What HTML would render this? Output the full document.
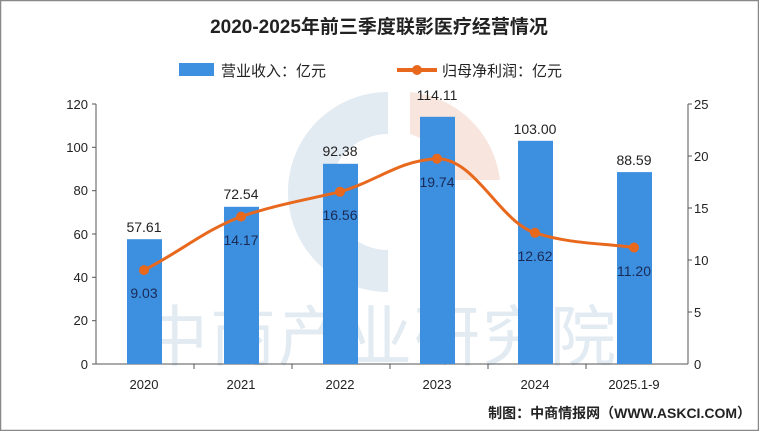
<!DOCTYPE html>
<html><head><meta charset="utf-8"><style>
body{margin:0;background:#fff}
svg text{font-family:"Liberation Sans","Noto Sans CJK SC",sans-serif}
</style></head><body>
<svg width="759" height="431" viewBox="0 0 759 431" xmlns="http://www.w3.org/2000/svg">
<rect x="0.5" y="0.5" width="758" height="430" fill="#fff" stroke="#888" stroke-width="1.5"/>
<path d="M388 92 A100 100 0 1 0 388 292 L388 250 A58 58 0 1 1 388 134 Z" fill="#e2eaf2"/>
<path d="M410 92 A100 100 0 0 1 500 180 L450 180 A58 58 0 0 0 410 134 Z" fill="#f8e6de"/>
<text x="380" y="360" text-anchor="middle" font-size="66" fill="#e2eaf2" letter-spacing="2">中商产业研究院</text>
<text x="379" y="33" text-anchor="middle" font-size="19" font-weight="bold" fill="#222">2020-2025年前三季度联影医疗经营情况</text>
<rect x="179" y="63" width="35" height="13" fill="#3d8fe0"/>
<text x="221" y="76" font-size="15" fill="#222">营业收入：亿元</text>
<line x1="397" y1="70" x2="437" y2="70" stroke="#e8691e" stroke-width="4"/>
<circle cx="417" cy="70" r="5" fill="#e8691e"/>
<text x="442" y="76" font-size="15" fill="#222">归母净利润：亿元</text>
<g stroke="#555" stroke-width="1">
<line x1="96" y1="104" x2="96" y2="364"/>
<line x1="688" y1="104" x2="688" y2="364"/>
<line x1="96" y1="364" x2="688" y2="364"/>
<line x1="92" y1="104" x2="96" y2="104"/><line x1="92" y1="147.3" x2="96" y2="147.3"/><line x1="92" y1="190.7" x2="96" y2="190.7"/><line x1="92" y1="234" x2="96" y2="234"/><line x1="92" y1="277.3" x2="96" y2="277.3"/><line x1="92" y1="320.7" x2="96" y2="320.7"/><line x1="92" y1="364" x2="96" y2="364"/>
<line x1="688" y1="104" x2="692" y2="104"/><line x1="688" y1="156" x2="692" y2="156"/><line x1="688" y1="208" x2="692" y2="208"/><line x1="688" y1="260" x2="692" y2="260"/><line x1="688" y1="312" x2="692" y2="312"/>
<line x1="194" y1="364" x2="194" y2="369"/><line x1="292" y1="364" x2="292" y2="369"/><line x1="390" y1="364" x2="390" y2="369"/><line x1="488" y1="364" x2="488" y2="369"/><line x1="586" y1="364" x2="586" y2="369"/>
</g>
<g font-size="13" fill="#222" text-anchor="end">
<text x="88" y="109">120</text><text x="88" y="152">100</text><text x="88" y="195">80</text><text x="88" y="239">60</text><text x="88" y="282">40</text><text x="88" y="325">20</text><text x="88" y="369">0</text>
</g>
<g font-size="13" fill="#222">
<text x="694" y="109">25</text><text x="694" y="161">20</text><text x="694" y="213">15</text><text x="694" y="265">10</text><text x="694" y="317">5</text><text x="694" y="369">0</text>
</g>
<g font-size="13" fill="#222" text-anchor="middle">
<text x="144" y="389">2020</text><text x="241" y="389">2021</text><text x="340" y="389">2022</text><text x="437" y="389">2023</text><text x="535" y="389">2024</text><text x="634" y="389">2025.1-9</text>
</g>
<g fill="#3d8fe0">
<rect x="127" y="239.2" width="35" height="124.8"/>
<rect x="224" y="206.8" width="35" height="157.2"/>
<rect x="323" y="163.8" width="35" height="200.2"/>
<rect x="420" y="116.8" width="35" height="247.2"/>
<rect x="518" y="140.8" width="35" height="223.2"/>
<rect x="617" y="172.1" width="35" height="191.9"/>
</g>
<g font-size="14" fill="#222" text-anchor="middle">
<text x="144" y="232">57.61</text><text x="241" y="199">72.54</text><text x="340" y="156">92.38</text><text x="437" y="100">114.11</text><text x="535" y="134">103.00</text><text x="634" y="165">88.59</text>
</g>
<path d="M144 270.1 C180 252,205 230,241 216.6 C275 205,305 200,340 191.8 C375 182,400 160,437 158.7 C475 158,500 222,535 232.8 C570 244,600 243,634 247.5" fill="none" stroke="#e8691e" stroke-width="3"/>
<g fill="#e8691e">
<circle cx="144" cy="270.1" r="5"/><circle cx="241" cy="216.6" r="5"/><circle cx="340" cy="191.8" r="5"/><circle cx="437" cy="158.7" r="5"/><circle cx="535" cy="232.8" r="5"/><circle cx="634" cy="247.5" r="5"/>
</g>
<g font-size="14" fill="#1a2a55" text-anchor="middle">
<text x="144" y="298">9.03</text><text x="241" y="245">14.17</text><text x="340" y="220">16.56</text><text x="437" y="187">19.74</text><text x="535" y="261">12.62</text><text x="634" y="276">11.20</text>
</g>
<text x="751" y="418" text-anchor="end" font-size="14" font-weight="bold" fill="#222">制图：中商情报网（WWW.ASKCI.COM）</text>
</svg>
</body></html>
